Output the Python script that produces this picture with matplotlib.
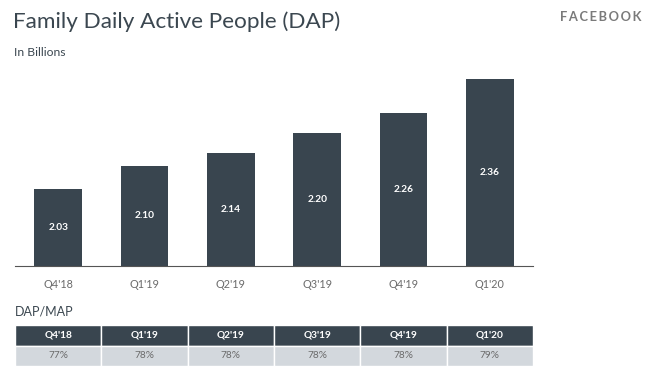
import matplotlib.pyplot as plt
from matplotlib.patches import Rectangle

plt.rcParams["font.family"] = ["Lato", "DejaVu Sans"]

quarters = ["Q4'18", "Q1'19", "Q2'19", "Q3'19", "Q4'19", "Q1'20"]
dap = [2.03, 2.10, 2.14, 2.20, 2.26, 2.36]
dap_map = ["77%", "78%", "78%", "78%", "78%", "79%"]

DARK = "#39454f"
LIGHT = "#d3d8dd"
TEXT = "#3b4750"
GREY = "#6b6b6b"

fig = plt.figure(figsize=(6.6, 3.75), dpi=100)

# bar chart
ax = fig.add_axes([15 / 660, 1 - 266 / 375, 518 / 660, 200 / 375])
x = list(range(len(quarters)))
bars = ax.bar(x, dap, width=0.555, bottom=0, color=DARK)
ax.set_xlim(-0.5, 5.5)
ax.set_ylim(1.8, 2.4)
for xi, v in zip(x, dap):
    ax.text(xi, (1.8 + v) / 2, f"{v:.2f}", ha="center", va="center",
            color="white", fontsize=7.3, fontweight="bold")
ax.set_xticks(x)
ax.set_xticklabels(quarters, fontsize=7.8, color=GREY)
ax.tick_params(axis="x", length=0, pad=9)
ax.set_yticks([])
for s in ["top", "right", "left"]:
    ax.spines[s].set_visible(False)
ax.spines["bottom"].set_color("#555555")
ax.spines["bottom"].set_linewidth(0.8)

# DAP/MAP table
tab = fig.add_axes([15 / 660, 1 - 366 / 375, 518 / 660, 41 / 375])
tab.set_xlim(-0.5, 5.5)
tab.set_ylim(0, 2)
tab.axis("off")
for xi, q, pct in zip(x, quarters, dap_map):
    tab.add_patch(Rectangle((xi - 0.5, 1), 1, 1, facecolor=DARK,
                            edgecolor="white", linewidth=1))
    tab.add_patch(Rectangle((xi - 0.5, 0), 1, 1, facecolor=LIGHT,
                            edgecolor="white", linewidth=1))
    tab.text(xi, 1.5, q, ha="center", va="center", color="white",
             fontsize=7.3, fontweight="bold")
    tab.text(xi, 0.5, pct, ha="center", va="center", color=GREY, fontsize=7.3)

fig.text(15 / 660, 1 - 312 / 375, "DAP/MAP", ha="left", va="center",
         fontsize=9, color=TEXT)

# titles
fig.text(13 / 660, 1 - 22 / 375, "Family Daily Active People (DAP)",
         ha="left", va="center", fontsize=16.2, color=TEXT)
fig.text(14 / 660, 1 - 52 / 375, "In Billions", ha="left", va="center",
         fontsize=8.7, color=TEXT)
fig.text(641 / 660, 1 - 17 / 375, "F A C E B O O K".replace(" ", "\u2009"),
         ha="right", va="center", fontsize=9.3, color="#7a7a7a",
         fontweight="bold")

fig.savefig("out.png", dpi=100)
